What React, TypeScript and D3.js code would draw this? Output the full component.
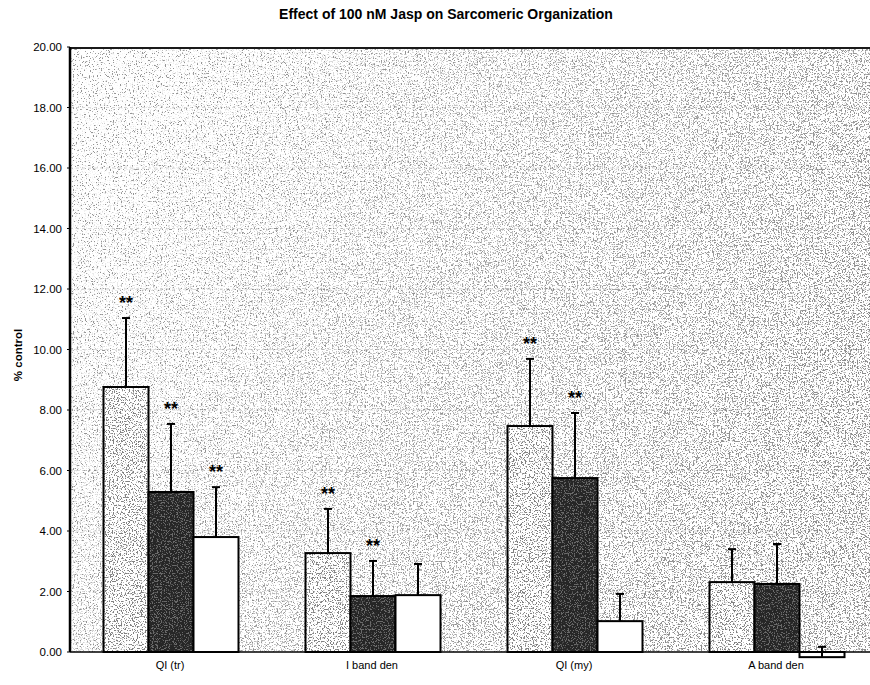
import * as d3 from 'd3';

// values (% control)
const categories = ['QI (tr)', 'I band den', 'QI (my)', 'A band den'];
const seriesA = [8.76, 3.27, 7.47, 2.31];
const seriesB = [5.29, 1.85, 5.75, 2.25];
const seriesC = [3.8, 1.88, 1.02, -0.17];
const errA = [2.28, 1.46, 2.22, 1.09];
const errB = [2.25, 1.16, 2.15, 1.32];
const errC = [1.65, 1.03, 0.9, 0.34];
const sigA = [true, true, true, false];
const sigB = [true, true, true, false];
const sigC = [true, false, false, false];
const yTicks = [0, 2, 4, 6, 8, 10, 12, 14, 16, 18, 20];

const W = 870;
const H = 685;
const left = 70;
const top = 47;
const bottom = 652;
const right = 878;

// stipple filter: noise -> thresholded dots
function Dots({ id, seed, cut, shade }: { id: string; seed: number; cut: number; shade: number }) {
  return (
    <filter id={id} x="0" y="0" width="1" height="1">
      <feTurbulence type="fractalNoise" baseFrequency="0.75" numOctaves="4" seed={seed} />
      <feColorMatrix type="matrix"
        values={`0 0 0 0 ${shade}  0 0 0 0 ${shade}  0 0 0 0 ${shade}  1 0 0 0 0`} />
      <feComponentTransfer>
        <feFuncA type="linear" slope="12" intercept={-12 * cut} />
      </feComponentTransfer>
    </filter>
  );
}

export default function App() {
  const x = d3.scaleBand<string>().domain(categories).range([left, right]);
  const inner = d3.scaleBand<number>().domain([0, 1, 2]).range([33.5, 33.5 + 135]);
  const y = d3.scaleLinear().domain([0, 20]).range([bottom, top]);

  const series = [
    { values: seriesA, errs: errA, sig: sigA, kind: 'light' },
    { values: seriesB, errs: errB, sig: sigB, kind: 'dark' },
    { values: seriesC, errs: errC, sig: sigC, kind: 'white' },
  ];

  return (
    <svg width={W} height={H} style={{ position: 'absolute', left: 0, top: 0 }}
      fontFamily="Arial, 'Liberation Sans', sans-serif">
      <defs>
        <Dots id="dotsBg" seed={4} cut={0.62} shade={0.3} />
        <Dots id="dotsBg2" seed={11} cut={0.57} shade={0.25} />
        <Dots id="dotsLight" seed={21} cut={0.54} shade={0.22} />
        <Dots id="dotsDark" seed={31} cut={0.38} shade={0.02} />
        <linearGradient id="fadeRight" x1="0" y1="0" x2="1" y2="0.4">
          <stop offset="0" stopColor="#fff" stopOpacity="0" />
          <stop offset="0.45" stopColor="#fff" stopOpacity="0.5" />
          <stop offset="1" stopColor="#fff" stopOpacity="1" />
        </linearGradient>
        <mask id="rightMask">
          <rect x={left} y={top} width={right - left} height={bottom - top} fill="url(#fadeRight)" />
        </mask>
      </defs>

      <text x={446} y={19} textAnchor="middle" fontSize={14} fontWeight="bold">
        Effect of 100 nM Jasp on Sarcomeric Organization
      </text>

      {/* plot area background */}
      <rect x={left} y={top} width={right - left} height={bottom - top} fill="#fff" />
      <rect x={left} y={top} width={right - left} height={bottom - top} filter="url(#dotsBg)" />
      <g mask="url(#rightMask)">
        <rect x={left} y={top} width={right - left} height={bottom - top} filter="url(#dotsBg2)" />
      </g>

      {/* faint gridlines */}
      {yTicks.slice(1, -1).map(t => (
        <line key={t} x1={left} x2={right} y1={y(t)} y2={y(t)}
          stroke="#777" strokeWidth={0.8} strokeDasharray="3,3" opacity={0.35} />
      ))}
      <line x1={left} x2={right} y1={top + 1} y2={top + 1} stroke="#1a1a1a" strokeWidth={2} />

      {/* bars */}
      {series.map((s, si) => (
        <g key={si}>
          {categories.map((c, ci) => {
            const v = s.values[ci];
            const bx = (x(c) ?? 0) + (inner(si) ?? 0);
            const bw = inner.bandwidth();
            const y0 = y(Math.max(0, v));
            const h = Math.abs(y(v) - y(0));
            const cx = bx + bw / 2;
            const eTop = y(v + s.errs[ci]);
            return (
              <g key={c}>
                <rect x={bx} y={y0} width={bw} height={h}
                  fill={s.kind === 'dark' ? '#6a6a6a' : '#fff'} />
                {s.kind === 'light' && (
                  <rect x={bx} y={y0} width={bw} height={h} filter="url(#dotsLight)" />
                )}
                {s.kind === 'dark' && (
                  <rect x={bx} y={y0} width={bw} height={h} filter="url(#dotsDark)" />
                )}
                <rect x={bx} y={y0} width={bw} height={h} fill="none" stroke="#000" strokeWidth={2} />
                <line x1={cx} x2={cx} y1={y(v)} y2={eTop} stroke="#000" strokeWidth={2} />
                <line x1={cx - 4} x2={cx + 4} y1={eTop} y2={eTop} stroke="#000" strokeWidth={2} />
                {s.sig[ci] && (
                  <text x={cx} y={eTop - 9} textAnchor="middle" fontSize={18} fontWeight="bold">**</text>
                )}
              </g>
            );
          })}
        </g>
      ))}

      {/* axes */}
      <line x1={left} x2={left} y1={top} y2={bottom} stroke="#000" strokeWidth={2.5} />
      <line x1={left} x2={right} y1={bottom} y2={bottom} stroke="#000" strokeWidth={1.5} />
      {yTicks.map(t => (
        <g key={t}>
          <line x1={left - 3} x2={left} y1={y(t)} y2={y(t)} stroke="#000" strokeWidth={1} />
          <text x={62} y={y(t)} dy="0.35em" textAnchor="end" fontSize={11.5}>{d3.format('.2f')(t)}</text>
        </g>
      ))}
      {categories.map(c => (
        <text key={c} x={(x(c) ?? 0) + x.bandwidth() / 2 - 1} y={669} textAnchor="middle" fontSize={11}>{c}</text>
      ))}

      <text transform={`translate(22,355) rotate(-90)`} textAnchor="middle" fontSize={11.5} fontWeight="bold">% control</text>
    </svg>
  );
}
